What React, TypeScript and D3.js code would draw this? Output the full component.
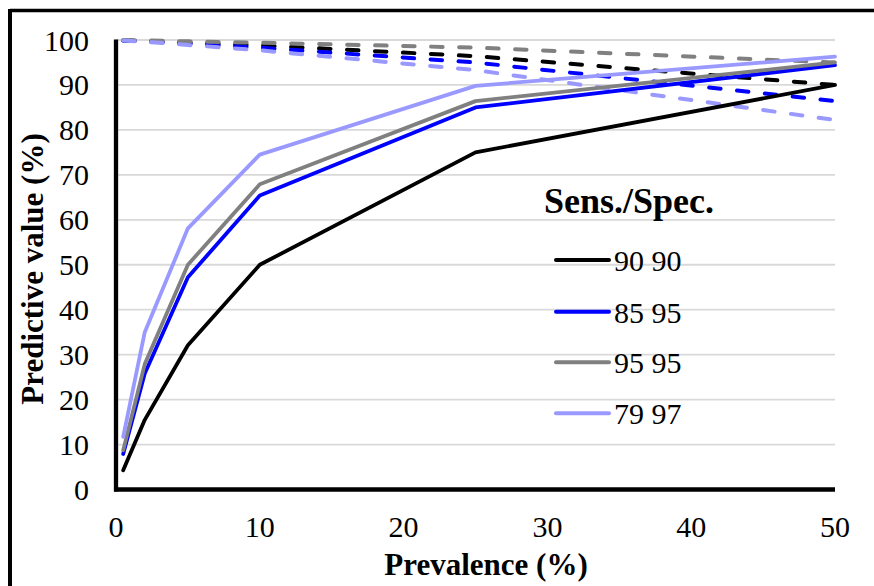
import React from "react";
import * as d3 from "d3";

const prevalence = [0.5, 2, 5, 10, 25, 50];
const seriesNames = ["90 90", "85 95", "95 95", "79 97"];
const seriesColors = ["#000000", "#0000ff", "#808080", "#9999ff"];
const ppv90_90 = [4.3, 15.5, 32.1, 50.0, 75.0, 90.0];
const ppv85_95 = [7.9, 25.8, 47.2, 65.4, 85.0, 94.4];
const ppv95_95 = [8.7, 27.9, 50.0, 67.9, 86.4, 95.0];
const ppv79_97 = [11.7, 35.0, 58.1, 74.5, 89.8, 96.3];
const npv90_90 = [99.9, 99.8, 99.4, 98.8, 96.4, 90.0];
const npv85_95 = [99.9, 99.7, 99.2, 98.3, 95.0, 86.4];
const npv95_95 = [100.0, 99.9, 99.7, 99.4, 98.3, 95.0];
const npv79_97 = [99.9, 99.6, 98.9, 97.7, 93.3, 82.2];
const xTicks = [0, 10, 20, 30, 40, 50];
const yTicks = [0, 10, 20, 30, 40, 50, 60, 70, 80, 90, 100];

const ppvSeries = [ppv90_90, ppv85_95, ppv95_95, ppv79_97];
const npvSeries = [npv90_90, npv85_95, npv95_95, npv79_97];

const W = 874;
const H = 586;
const FONT =
  '"Liberation Serif", "LiberationSerif", Tinos, "Times New Roman", Times, "DejaVu Serif", "Noto Serif", FreeSerif, serif';

export default function App() {
  const x = d3.scaleLinear().domain([0, 50]).range([116, 835]);
  const y = d3.scaleLinear().domain([0, 100]).range([489.5, 40]);
  const line = d3
    .line<[number, number]>()
    .x((d) => x(d[0]))
    .y((d) => y(d[1]));
  const pts = (vals: number[]) => prevalence.map((p, i) => [p, vals[i]] as [number, number]);

  const legendY = [260, 311.7, 362.3, 413.3];
  const tStyle = { fontFamily: FONT };

  return (
    <svg
      width={W}
      height={H}
      style={{ position: "absolute", left: 0, top: 0, background: "#fff", fontFamily: FONT }}
    >
      <rect x={0} y={0} width={W} height={H} fill="#fff" />
      <line x1={10} y1={10.5} x2={W} y2={10.5} stroke="#000" strokeWidth={3.5} />
      <line x1={10} y1={9} x2={10} y2={H} stroke="#000" strokeWidth={4} />

      {yTicks.filter((t) => t > 0).map((t) => (
        <line key={"g" + t} x1={116} x2={835} y1={y(t)} y2={y(t)} stroke="#d9d9d9" strokeWidth={1.8} />
      ))}

      {yTicks.map((t) => (
        <text key={"yt" + t} x={89} y={y(t) + 10.5} textAnchor="end" fontSize={30} fill="#000" style={tStyle}>
          {t}
        </text>
      ))}
      {xTicks.map((t) => (
        <text key={"xt" + t} x={x(t)} y={536.7} textAnchor="middle" fontSize={30} fill="#000" style={tStyle}>
          {t}
        </text>
      ))}

      {npvSeries.map((s, i) => (
        <path
          key={"n" + i}
          d={line(pts(s)) || ""}
          fill="none"
          stroke={seriesColors[i]}
          strokeWidth={4}
          strokeDasharray="11.5,16.5"
          strokeLinecap="round"
        />
      ))}
      {ppvSeries.map((s, i) => (
        <path
          key={"p" + i}
          d={line(pts(s)) || ""}
          fill="none"
          stroke={seriesColors[i]}
          strokeWidth={3.8}
          strokeLinecap="round"
          strokeLinejoin="round"
        />
      ))}

      <line x1={116} y1={39.5} x2={116} y2={491.5} stroke="#000" strokeWidth={4.3} />
      <line x1={114} y1={489.5} x2={835} y2={489.5} stroke="#000" strokeWidth={4.3} />

      <text x={486} y={575} textAnchor="middle" fontSize={31} fontWeight="bold" fill="#000" style={tStyle}>
        Prevalence (%)
      </text>
      <text
        x={43}
        y={269}
        textAnchor="middle"
        fontSize={31}
        fontWeight="bold"
        fill="#000"
        style={tStyle}
        transform="rotate(-90, 43, 269)"
      >
        Predictive value (%)
      </text>

      <text x={629} y={213} textAnchor="middle" fontSize={36} fontWeight="bold" fill="#000" style={tStyle}>
        Sens./Spec.
      </text>
      {seriesNames.map((n, i) => (
        <g key={"l" + i}>
          <line x1={556} x2={609} y1={legendY[i]} y2={legendY[i]} stroke={seriesColors[i]} strokeWidth={4} strokeLinecap="round" />
          <text x={614} y={legendY[i] + 11} fontSize={30} fill="#000" style={tStyle}>
            {n}
          </text>
        </g>
      ))}
    </svg>
  );
}
